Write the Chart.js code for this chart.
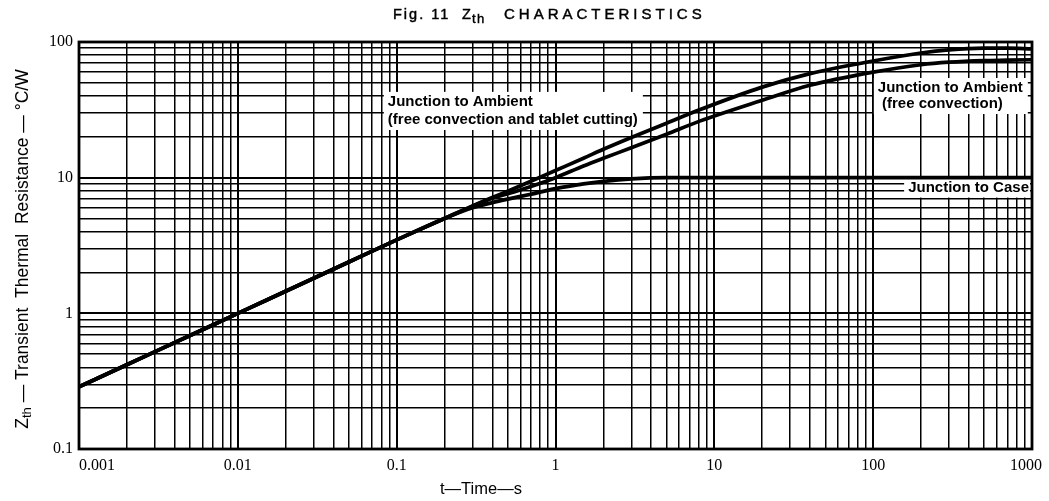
<!DOCTYPE html>
<html><head><meta charset="utf-8">
<script src="https://cdn.jsdelivr.net/npm/chart.js@4/dist/chart.umd.min.js"></script>
<style>html,body{margin:0;padding:0;background:#fff;}#wrap{width:1049px;height:501px;}</style>
</head><body><div id="wrap"><canvas id="c" width="1049" height="501" style="width:1049px;height:501px"></canvas></div>
<script>
// ---- data ----
const times          = [0.001, 0.002, 0.005, 0.01, 0.02, 0.05, 0.1, 0.2, 0.3, 0.4, 0.5, 0.7, 1, 1.5, 2, 3, 5, 8, 20, 40, 100, 200, 300, 500, 700, 1000];
const caseZ          = [0.287, 0.418, 0.686, 1.0, 1.455, 2.39, 3.48, 5.0, 6.0, 6.55, 6.95, 7.55, 8.3, 9.0, 9.4, 9.8, 10.0, 10.0, 10.0, 10.0, 10.0, 10.0, 10.0, 10.0, 10.0, 10.0];
const ambientFreeZ   = [0.287, 0.418, 0.686, 1.0, 1.455, 2.39, 3.48, 5.0, 6.15, 7.05, 7.6, 8.6, 10.0, 12.2, 13.9, 16.6, 20.9, 26.0, 37.2, 48.0, 60.0, 68.0, 71.0, 73.0, 73.5, 74.0];
const ambientTabletZ = [0.287, 0.418, 0.686, 1.0, 1.455, 2.39, 3.48, 5.0, 6.2, 7.15, 7.95, 9.4, 11.3, 13.9, 16.2, 19.8, 25.2, 31.5, 46.5, 58.5, 72.5, 83.0, 87.5, 90.0, 90.0, 89.0];
const xTickLabels = ['0.001', '0.01', '0.1', '1', '10', '100', '1000'];
const yTickLabels = ['0.1', '1', '10', '100'];
const labelTexts = [
  ['Junction to Ambient', '(free convection and tablet cutting)'],
  ['Junction to Ambient', ' (free convection)'],
  ['Junction to Case']
];
const labelAnchors = [ // [time, Z] of each text line's left-middle point
  [[0.088, 36.2], [0.088, 26.6]],
  [[107, 45.8], [107, 34.9]],
  [[166, 8.45]]
];

const SANS = '"Liberation Sans", Arial, Helvetica, sans-serif';
const SERIF = '"Liberation Serif", "Times New Roman", serif';

function logGrid(min, max) {
  const out = [];
  for (let e = Math.floor(Math.log10(min)); e <= Math.ceil(Math.log10(max)); e++) {
    for (let s = 1; s <= 9; s++) {
      const v = +(s * Math.pow(10, e)).toPrecision(6);
      if (v >= min * 0.9999 && v <= max * 1.0001) out.push({value: v, major: s === 1});
    }
  }
  return out;
}

function drawRich(ctx, parts, x, y, align) {
  let w = 0;
  parts.forEach(p => { ctx.font = p.font; ctx.letterSpacing = p.ls || '0px'; p.w = ctx.measureText(p.t).width; w += p.w; });
  let cx = align === 'center' ? x - w / 2 : x;
  parts.forEach(p => {
    ctx.font = p.font; ctx.letterSpacing = p.ls || '0px';
    ctx.fillText(p.t, cx, y + (p.dy || 0));
    cx += p.w;
  });
  ctx.letterSpacing = '0px';
}

function boldish(ctx, t, x, y) {
  ctx.fillText(t, x, y);
  ctx.strokeText(t, x, y);
}

const decor = {
  id: 'decor',
  beforeDatasetsDraw(chart) {
    const {ctx, chartArea: a, scales: {x, y}} = chart;
    ctx.save();
    ctx.font = 'bold 15px ' + SANS;
    ctx.textBaseline = 'middle';
    ctx.textAlign = 'left';
    labelTexts.forEach((lines, i) => {
      let minX = 1e9, maxX = -1e9, minY = 1e9, maxY = -1e9;
      lines.forEach((t, j) => {
        const px = x.getPixelForValue(labelAnchors[i][j][0]);
        const py = y.getPixelForValue(labelAnchors[i][j][1]);
        const w = ctx.measureText(t).width;
        minX = Math.min(minX, px); maxX = Math.max(maxX, px + w);
        minY = Math.min(minY, py - 9); maxY = Math.max(maxY, py + 9);
      });
      ctx.fillStyle = '#fff';
      ctx.fillRect(minX - 4, minY - 1, Math.min(maxX + 5, a.right - 2) - (minX - 4), maxY - minY + 2);
      ctx.fillStyle = '#000';
      lines.forEach((t, j) => {
        ctx.fillText(t, x.getPixelForValue(labelAnchors[i][j][0]), y.getPixelForValue(labelAnchors[i][j][1]));
      });
    });
    ctx.strokeStyle = '#000';
    ctx.lineWidth = 2.8;
    ctx.strokeRect(a.left, a.top, a.right - a.left, a.bottom - a.top);
    ctx.restore();
  },
  afterDraw(chart) {
    const {ctx, chartArea: a, scales: {x}} = chart;
    ctx.save();
    ctx.fillStyle = '#000';
    ctx.strokeStyle = '#000';
    ctx.font = '16px ' + SERIF;
    ctx.textBaseline = 'middle';
    xTickLabels.forEach((lab, i) => {
      const px = x.getPixelForValue(parseFloat(lab));
      ctx.textAlign = i === 0 ? 'left' : 'center';
      ctx.fillText(lab, i === 0 ? px : (i === xTickLabels.length - 1 ? px - 6 : px), a.bottom + 17);
    });
    ctx.textAlign = 'left';
    ctx.font = '16.5px ' + SANS;
    ctx.fillText('t\u2014Time\u2014s', 440, 489);
    // chart title
    ctx.lineWidth = 0.45;
    ctx.font = '14.5px ' + SANS;
    ctx.letterSpacing = '2px';
    boldish(ctx, 'Fig. 11', 393, 15);
    ctx.letterSpacing = '0px';
    boldish(ctx, 'Z', 462, 15);
    ctx.font = '13px ' + SANS;
    ctx.letterSpacing = '1.5px';
    boldish(ctx, 'th', 472, 19);
    ctx.font = '15px ' + SANS;
    ctx.letterSpacing = '4px';
    boldish(ctx, 'CHARACTERISTICS', 504, 15);
    ctx.letterSpacing = '0px';
    // y title (rotated)
    ctx.translate(23, 249);
    ctx.rotate(-Math.PI / 2);
    drawRich(ctx, [
      {t: 'Z', font: '17.5px ' + SANS},
      {t: 'th', font: '13px ' + SANS, dy: 4},
      {t: ' \u2014 Transient  Thermal  Resistance \u2014 \u00B0C/W', font: '17.5px ' + SANS}
    ], 0, 0, 'center');
    ctx.restore();
  }
};

const mk = (label, vals) => ({
  label,
  data: times.map((t, i) => ({x: t, y: vals[i]})),
  borderColor: '#000',
  borderWidth: 3.7,
  pointRadius: 0,
  fill: false,
  cubicInterpolationMode: 'monotone'
});

const gridOpts = {
  color: '#000',
  lineWidth: c => (c.tick && c.tick.major) ? 2.0 : 1.5,
  drawTicks: false
};

new Chart(document.getElementById('c'), {
  type: 'line',
  data: {
    datasets: [
      mk('Junction to Case', caseZ),
      mk('Junction to Ambient (free convection)', ambientFreeZ),
      mk('Junction to Ambient (free convection and tablet cutting)', ambientTabletZ)
    ]
  },
  options: {
    responsive: false,
    animation: false,
    devicePixelRatio: 1,
    layout: {padding: {top: 42, right: 17, left: 0, bottom: 0}},
    plugins: {legend: {display: false}, title: {display: false}, tooltip: {enabled: false}},
    scales: {
      x: {
        type: 'logarithmic', min: 0.001, max: 1000,
        afterBuildTicks: s => { s.ticks = logGrid(0.001, 1000); },
        afterFit: s => { s.height = 52; },
        ticks: {display: false, autoSkip: false},
        grid: gridOpts,
        border: {display: false}
      },
      y: {
        type: 'logarithmic', min: 0.1, max: 100,
        afterBuildTicks: s => { s.ticks = logGrid(0.1, 100); },
        afterFit: s => { s.width = 79; },
        ticks: {
          autoSkip: false, padding: 6, color: '#000',
          font: {family: SERIF, size: 16},
          callback: v => { const l = String(+(+v).toPrecision(6)); return yTickLabels.includes(l) ? l : ''; }
        },
        grid: gridOpts,
        border: {display: false}
      }
    }
  },
  plugins: [decor]
});
</script>
</body></html>
